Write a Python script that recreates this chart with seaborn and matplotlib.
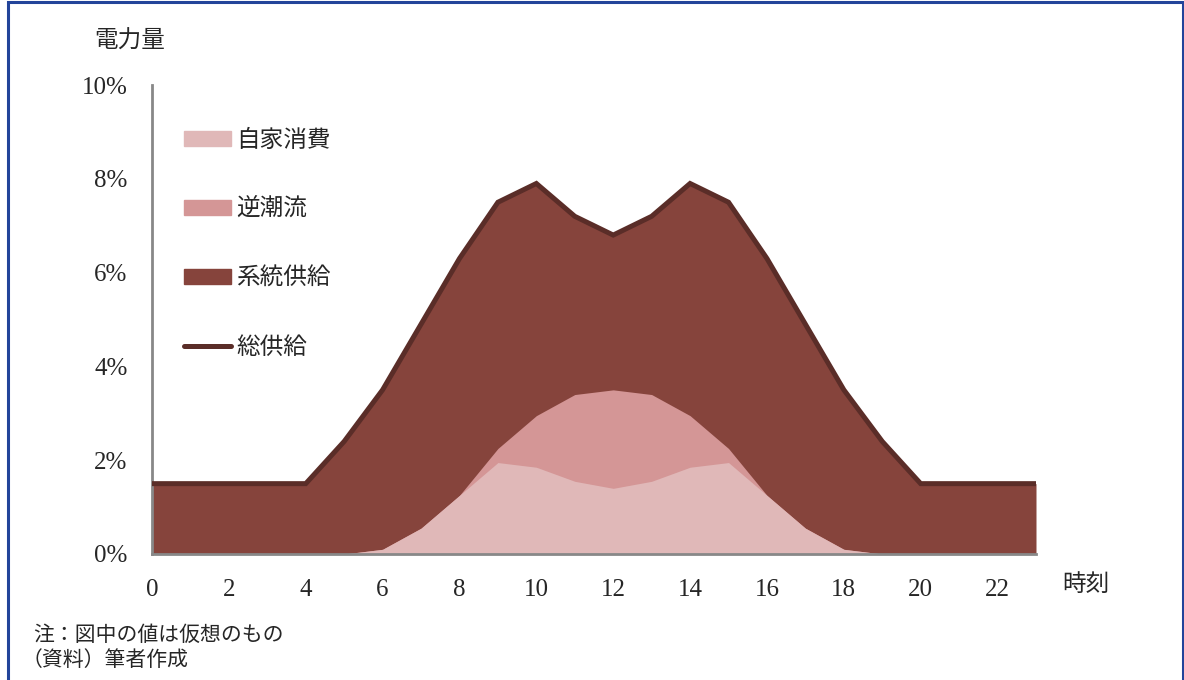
import matplotlib
matplotlib.use("Agg")
import matplotlib.pyplot as plt
import matplotlib.patches as mpatches
from matplotlib.lines import Line2D
import seaborn as sns
import pandas as pd

# Hourly electricity profile (% of daily total)
hours = list(range(24))
total_supply = [1.5, 1.5, 1.5, 1.5, 1.5, 2.4, 3.5, 4.9, 6.3, 7.5, 7.9, 7.2,
                6.8, 7.2, 7.9, 7.5, 6.3, 4.9, 3.5, 2.4, 1.5, 1.5, 1.5, 1.5]
self_consumption = [0, 0, 0, 0, 0, 0, 0.1, 0.55, 1.25, 1.95, 1.85, 1.55,
                    1.4, 1.55, 1.85, 1.95, 1.25, 0.55, 0.1, 0, 0, 0, 0, 0]
reverse_flow = [0, 0, 0, 0, 0, 0, 0, 0, 0, 0.3, 1.1, 1.85,
                2.1, 1.85, 1.1, 0.3, 0, 0, 0, 0, 0, 0, 0, 0]

x_ticks = list(range(0, 24, 2))
y_ticks = [0, 2, 4, 6, 8, 10]
y_tick_labels = [f"{v}%" for v in y_ticks]

labels = ["自家消費", "逆潮流", "系統供給", "総供給"]
colors = {"自家消費": "#E0B8B8", "逆潮流": "#D49696",
          "系統供給": "#86443C", "総供給": "#5A2D28"}

df = pd.DataFrame({"hour": hours, "total": total_supply,
                   "self": self_consumption, "reverse": reverse_flow})
df["pv_top"] = df["self"] + df["reverse"]

sns.set_theme(style="white")
plt.rcParams["font.family"] = ["Liberation Serif", "Noto Sans CJK JP"]

fig = plt.figure(figsize=(11.84, 6.8), dpi=100)
ax = fig.add_axes([152 / 1184, 126 / 680, 884 / 1184, 469 / 680])

# Grid supply fills everything under the total; PV layers are painted on top
ax.fill_between(df["hour"], 0, df["total"], color=colors["系統供給"], lw=0, zorder=1)
ax.fill_between(df["hour"], 0, df["pv_top"], color=colors["逆潮流"], lw=0, zorder=2)
ax.fill_between(df["hour"], 0, df["self"], color=colors["自家消費"], lw=0, zorder=3)
sns.lineplot(data=df, x="hour", y="total", ax=ax, color=colors["総供給"],
             lw=3.6, zorder=4, solid_capstyle="round", solid_joinstyle="miter")

ax.set_xlim(0, 23)
ax.set_ylim(0, 10)
ax.set_xticks(x_ticks)
ax.set_xticklabels([str(t) for t in x_ticks], fontsize=18)
ax.set_yticks(y_ticks)
ax.set_yticklabels(y_tick_labels, fontsize=18)
ax.tick_params(axis="both", length=0)
ax.tick_params(axis="x", pad=18)
ax.tick_params(axis="y", pad=17.5)
ax.set_xlabel("")
ax.set_ylabel("")

for side in ["top", "right"]:
    ax.spines[side].set_visible(False)
for side in ["left", "bottom"]:
    ax.spines[side].set_color("#888888")
    ax.spines[side].set_linewidth(2)
ax.spines["bottom"].set_zorder(5)

# Legend
handles = [
    mpatches.Patch(color=colors["自家消費"], label=labels[0]),
    mpatches.Patch(color=colors["逆潮流"], label=labels[1]),
    mpatches.Patch(color=colors["系統供給"], label=labels[2]),
    Line2D([0], [0], color=colors["総供給"], lw=3.6, solid_capstyle="round", label=labels[3]),
]
leg = ax.legend(handles=handles, loc="upper left", bbox_to_anchor=(184 / 1184, 1 - 130 / 680),
                bbox_transform=fig.transFigure, frameon=False, fontsize=17,
                handlelength=2.0, handleheight=0.6, handletextpad=0.2, labelspacing=1.98,
                borderaxespad=0, borderpad=0)

# Axis titles and notes
fig.text(130 / 1184, 1 - 42 / 680, "電力量", fontsize=17, ha="center", va="center")
fig.text(1086 / 1184, 1 - 585 / 680, "時刻", fontsize=17, ha="center", va="center")
fig.text(33 / 1184, 1 - 636 / 680, "注：図中の値は仮想のもの", fontsize=15, ha="left", va="center")
fig.text(22 / 1184, 1 - 661 / 680, "（資料）筆者作成", fontsize=15, ha="left", va="center")

# Page border
fig.add_artist(mpatches.Rectangle((8 / 1184, -0.01), 1175 / 1184, 1 - 2 / 680 + 0.01,
                                  transform=fig.transFigure, fill=False,
                                  edgecolor="#23449A", lw=2.2))

fig.savefig("out.png", dpi=100)
